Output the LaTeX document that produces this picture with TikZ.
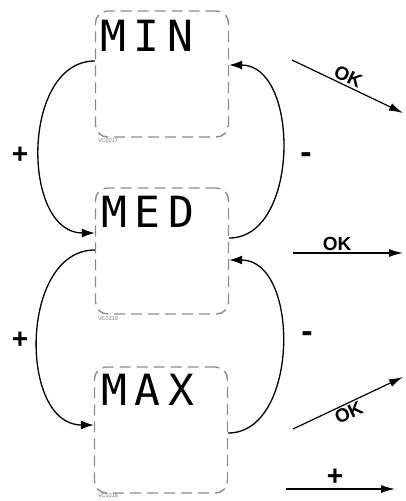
\documentclass[tikz,border=0pt]{standalone}
\usepackage{fontspec}
\setsansfont{Liberation Sans}
\newfontfamily\lcdfont[LetterSpace=18]{DejaVu Sans Mono}
\usetikzlibrary{arrows.meta}
\begin{document}
\begin{tikzpicture}[x=1pt, y=-1pt,
    screen/.style={draw=gray!90, dash pattern=on 11pt off 6pt, line width=1.4pt, rounded corners=12pt, minimum width=133pt, minimum height=126pt},
    lcd/.style={anchor=north west, inner sep=0pt, font=\lcdfont\fontsize{43}{43}\selectfont},
    code/.style={inner sep=0pt, gray!90!black, font=\sffamily\fontsize{5.5}{6}\selectfont},
    sign/.style={inner sep=0pt, font=\sffamily\bfseries\fontsize{28}{28}\selectfont},
    minus/.style={inner sep=0pt, font=\sffamily\bfseries\fontsize{34}{34}\selectfont},
    ok/.style={inner sep=2pt, font=\sffamily\bfseries\fontsize{19}{19}\selectfont},
    okarrow/.style={line width=1.2pt, -{Latex[length=14pt, width=8pt]}},
    loop/.style={line width=1.3pt, -{Latex[length=13pt, width=9pt]}}]
    \useasboundingbox (0, 0) rectangle (406, 501);
    \node[screen] (min) at (162, 74) {};
    \node[screen] (med) at (162, 251) {};
    \node[screen] (max) at (161, 430) {};
    \node[lcd] (mintext) at (100, 20) {MIN};
    \node[lcd] (medtext) at (101, 196) {MED};
    \node[lcd] (maxtext) at (101, 374) {MAX};
    \node[code] (mincode) at (108, 141) {VC0217};
    \node[code] (medcode) at (108, 319) {VC0219};
    \node[code] (maxcode) at (108, 496) {VC0218};
    \draw[loop] ([yshift=13pt]min.west) to[out=180, in=180, looseness=1.1] ([yshift=18pt]med.west);
    \draw[loop] ([yshift=1pt]med.west) to[out=180, in=180, looseness=1.1] ([yshift=5pt]max.west);
    \draw[loop] ([yshift=13pt]med.east) to[out=0, in=0, looseness=1.05] ([yshift=9pt]min.east);
    \draw[loop] ([yshift=-3pt]max.east) to[out=0, in=0, looseness=1.05] ([yshift=-9pt]med.east);
    \node[sign] (plusup) at (20, 155) {+};
    \node[sign] (pluslow) at (20, 340) {+};
    \node[minus] (minusup) at (306, 158) {-};
    \node[minus] (minuslow) at (307, 337) {-};
    \coordinate (okupa) at (292, 60);
    \coordinate (okupb) at (403, 113);
    \coordinate (okmida) at (293, 253);
    \coordinate (okmidb) at (403, 253);
    \coordinate (oklowa) at (293, 429);
    \coordinate (oklowb) at (403, 377);
    \coordinate (nexta) at (286, 489);
    \coordinate (nextb) at (395, 489);
    \draw[okarrow] (okupa) -- node[ok, pos=0.47, sloped, above] {OK} (okupb);
    \draw[okarrow] (okmida) -- node[ok, pos=0.4, above] {OK} (okmidb);
    \draw[okarrow] (oklowa) -- node[ok, pos=0.47, sloped, below] {OK} (oklowb);
    \draw[okarrow] (nexta) -- node[sign, pos=0.45, above=3pt] {+} (nextb);
\end{tikzpicture}
\end{document}
